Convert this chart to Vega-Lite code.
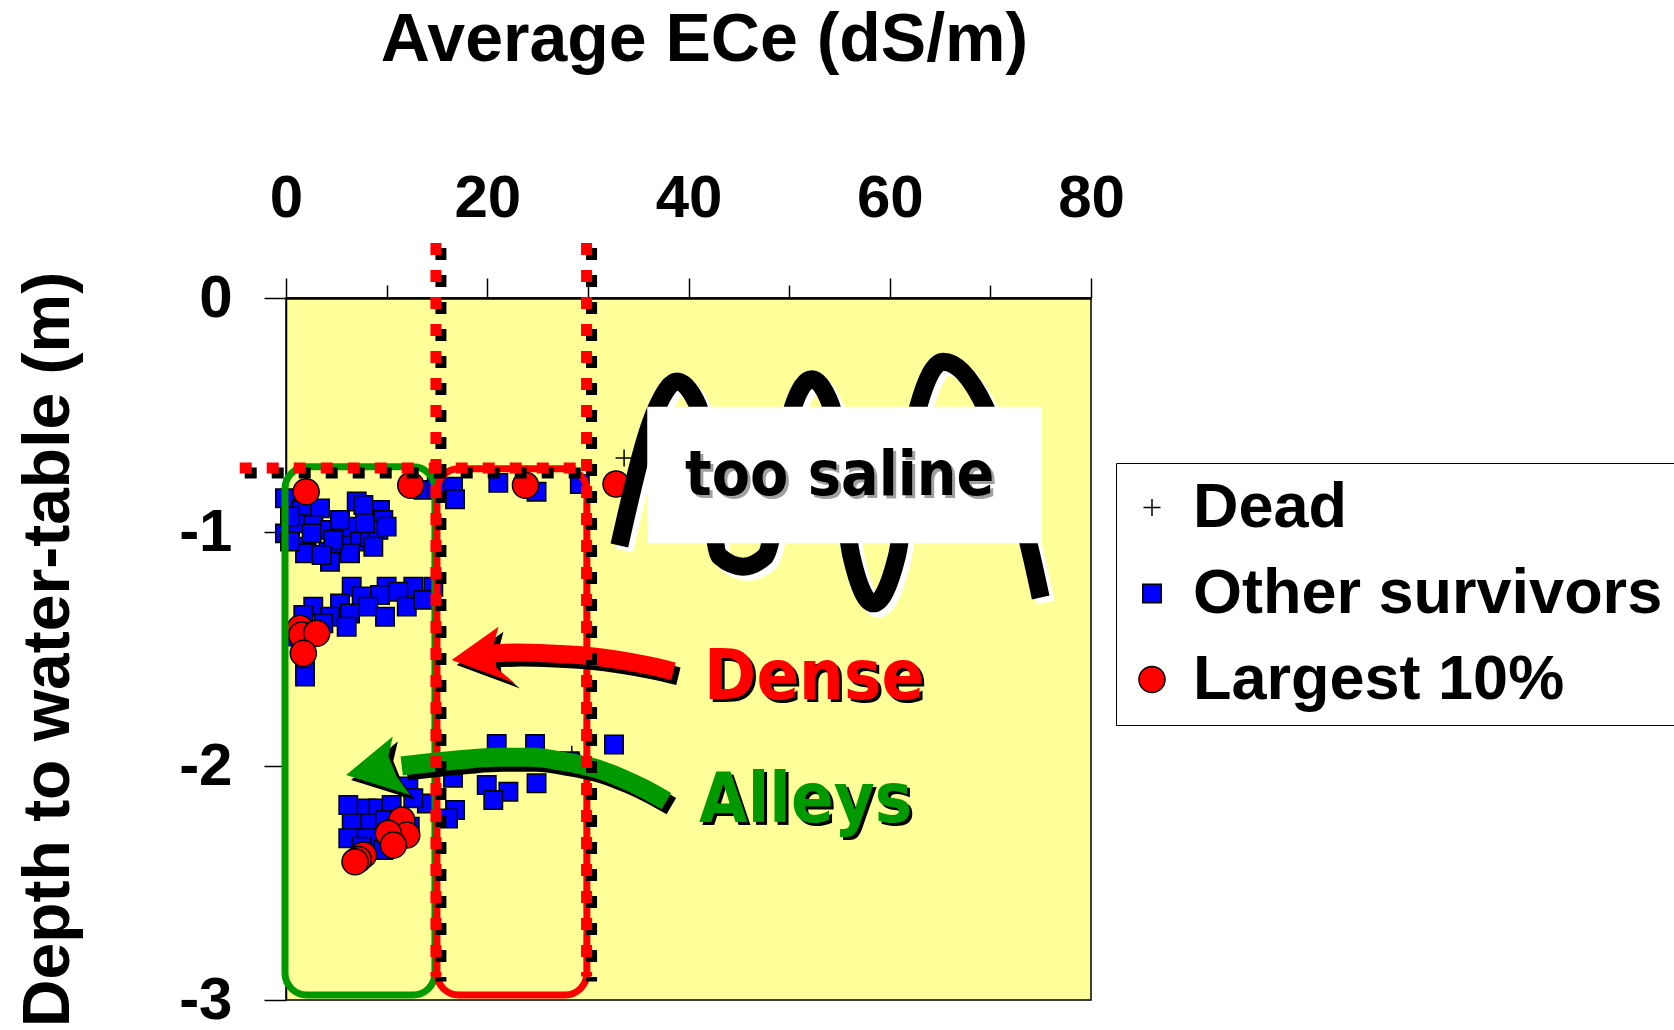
{
  "$schema": "https://vega.github.io/schema/vega-lite/v6.json",
  "width": 805,
  "height": 702,
  "autosize": {"type": "none"},
  "padding": {"left": 286, "top": 298, "right": 583, "bottom": 30},
  "config": {
    "view": {"fill": "#FFFF99", "stroke": "black", "strokeWidth": 1.5}
  },
  "datasets": {
    "pts": [
      {"x": 33.6, "y": -0.684, "s": "Dead"},
      {"x": 28.4, "y": -1.95, "s": "Dead"},
      {"x": -0.1, "y": -0.856, "s": "Other survivors"},
      {"x": -0.1, "y": -1.006, "s": "Other survivors"},
      {"x": 1.56, "y": -0.906, "s": "Other survivors"},
      {"x": 3.38, "y": -0.899, "s": "Other survivors"},
      {"x": 1.23, "y": -0.963, "s": "Other survivors"},
      {"x": 2.72, "y": -0.97, "s": "Other survivors"},
      {"x": 2.05, "y": -1.063, "s": "Other survivors"},
      {"x": 4.21, "y": -1.084, "s": "Other survivors"},
      {"x": 2.55, "y": -1.006, "s": "Other survivors"},
      {"x": 4.37, "y": -0.991, "s": "Other survivors"},
      {"x": 6.36, "y": -0.977, "s": "Other survivors"},
      {"x": 5.86, "y": -1.056, "s": "Other survivors"},
      {"x": 7.36, "y": -1.041, "s": "Other survivors"},
      {"x": 8.35, "y": -1.02, "s": "Other survivors"},
      {"x": 7.03, "y": -0.87, "s": "Other survivors"},
      {"x": 8.35, "y": -0.906, "s": "Other survivors"},
      {"x": 9.34, "y": -0.906, "s": "Other survivors"},
      {"x": 9.67, "y": -0.949, "s": "Other survivors"},
      {"x": 9.18, "y": -0.991, "s": "Other survivors"},
      {"x": 8.68, "y": -1.063, "s": "Other survivors"},
      {"x": 4.37, "y": -1.127, "s": "Other survivors"},
      {"x": 6.36, "y": -1.091, "s": "Other survivors"},
      {"x": 1.89, "y": -1.091, "s": "Other survivors"},
      {"x": 4.7, "y": -1.034, "s": "Other survivors"},
      {"x": 7.69, "y": -0.885, "s": "Other survivors"},
      {"x": 3.54, "y": -1.098, "s": "Other survivors"},
      {"x": 0.4, "y": -0.934, "s": "Other survivors"},
      {"x": 10.0, "y": -0.977, "s": "Other survivors"},
      {"x": 7.85, "y": -0.963, "s": "Other survivors"},
      {"x": 5.37, "y": -0.949, "s": "Other survivors"},
      {"x": 0.4, "y": -1.041, "s": "Other survivors"},
      {"x": 13.65, "y": -0.82, "s": "Other survivors"},
      {"x": 14.98, "y": -0.806, "s": "Other survivors"},
      {"x": 16.6, "y": -0.806, "s": "Other survivors"},
      {"x": 16.8, "y": -0.86, "s": "Other survivors"},
      {"x": 21.1, "y": -0.79, "s": "Other survivors"},
      {"x": 24.9, "y": -0.828, "s": "Other survivors"},
      {"x": 29.2, "y": -0.795, "s": "Other survivors"},
      {"x": 6.53, "y": -1.234, "s": "Other survivors"},
      {"x": 10.0, "y": -1.234, "s": "Other survivors"},
      {"x": 12.65, "y": -1.234, "s": "Other survivors"},
      {"x": 14.64, "y": -1.234, "s": "Other survivors"},
      {"x": 11.16, "y": -1.255, "s": "Other survivors"},
      {"x": 7.52, "y": -1.276, "s": "Other survivors"},
      {"x": 9.34, "y": -1.269, "s": "Other survivors"},
      {"x": 5.37, "y": -1.305, "s": "Other survivors"},
      {"x": 8.18, "y": -1.319, "s": "Other survivors"},
      {"x": 12.0, "y": -1.319, "s": "Other survivors"},
      {"x": 2.71, "y": -1.319, "s": "Other survivors"},
      {"x": 6.36, "y": -1.348, "s": "Other survivors"},
      {"x": 9.84, "y": -1.362, "s": "Other survivors"},
      {"x": 4.37, "y": -1.362, "s": "Other survivors"},
      {"x": 1.72, "y": -1.355, "s": "Other survivors"},
      {"x": 6.03, "y": -1.405, "s": "Other survivors"},
      {"x": 3.71, "y": -1.39, "s": "Other survivors"},
      {"x": 13.65, "y": -1.29, "s": "Other survivors"},
      {"x": 1.89, "y": -1.576, "s": "Other survivors"},
      {"x": 1.89, "y": -1.618, "s": "Other survivors"},
      {"x": 1.06, "y": -1.447, "s": "Other survivors"},
      {"x": 20.94, "y": -1.906, "s": "Other survivors"},
      {"x": 24.75, "y": -1.906, "s": "Other survivors"},
      {"x": 32.6, "y": -1.908, "s": "Other survivors"},
      {"x": 28.2, "y": -1.98, "s": "Other survivors"},
      {"x": 26.5, "y": -1.98, "s": "Other survivors"},
      {"x": 19.95, "y": -2.081, "s": "Other survivors"},
      {"x": 22.1, "y": -2.11, "s": "Other survivors"},
      {"x": 20.6, "y": -2.145, "s": "Other survivors"},
      {"x": 24.9, "y": -2.074, "s": "Other survivors"},
      {"x": 16.6, "y": -2.05, "s": "Other survivors"},
      {"x": 16.8, "y": -2.188, "s": "Other survivors"},
      {"x": 16.1, "y": -2.224, "s": "Other survivors"},
      {"x": 14.0, "y": -2.16, "s": "Other survivors"},
      {"x": 12.16, "y": -2.088, "s": "Other survivors"},
      {"x": 12.65, "y": -2.138, "s": "Other survivors"},
      {"x": 6.19, "y": -2.167, "s": "Other survivors"},
      {"x": 8.02, "y": -2.181, "s": "Other survivors"},
      {"x": 9.18, "y": -2.181, "s": "Other survivors"},
      {"x": 10.5, "y": -2.167, "s": "Other survivors"},
      {"x": 6.53, "y": -2.245, "s": "Other survivors"},
      {"x": 8.35, "y": -2.245, "s": "Other survivors"},
      {"x": 9.84, "y": -2.231, "s": "Other survivors"},
      {"x": 6.19, "y": -2.309, "s": "Other survivors"},
      {"x": 8.02, "y": -2.309, "s": "Other survivors"},
      {"x": 9.67, "y": -2.359, "s": "Other survivors"},
      {"x": 7.52, "y": -2.345, "s": "Other survivors"},
      {"x": 12.3, "y": -2.26, "s": "Other survivors"},
      {"x": 2.0, "y": -0.828, "s": "Largest 10%"},
      {"x": 12.4, "y": -0.8, "s": "Largest 10%"},
      {"x": 23.8, "y": -0.8, "s": "Largest 10%"},
      {"x": 32.8, "y": -0.795, "s": "Largest 10%"},
      {"x": 1.39, "y": -1.412, "s": "Largest 10%"},
      {"x": 1.56, "y": -1.44, "s": "Largest 10%"},
      {"x": 3.05, "y": -1.433, "s": "Largest 10%"},
      {"x": 1.72, "y": -1.518, "s": "Largest 10%"},
      {"x": 11.5, "y": -2.231, "s": "Largest 10%"},
      {"x": 12.0, "y": -2.295, "s": "Largest 10%"},
      {"x": 10.17, "y": -2.288, "s": "Largest 10%"},
      {"x": 10.67, "y": -2.338, "s": "Largest 10%"},
      {"x": 7.69, "y": -2.38, "s": "Largest 10%"},
      {"x": 7.19, "y": -2.4, "s": "Largest 10%"},
      {"x": 6.86, "y": -2.409, "s": "Largest 10%"}
    ],
    "boxes": [
      {"x": -0.1, "x2": 14.8, "y": -0.721, "y2": -2.979, "zone": "alleys"},
      {"x": 15.0, "x2": 29.9, "y": -0.73, "y2": -2.979, "zone": "dense"}
    ],
    "vdots": [
      {"x": 14.9, "y": 0.235, "y2": -2.9},
      {"x": 29.87, "y": 0.235, "y2": -2.9}
    ],
    "hdots": [
      {"x": -4.6, "x2": 30.2, "y": -0.727}
    ],
    "redShaft": [
      {"x": 20.2, "y": -1.52},
      {"x": 22.9, "y": -1.515},
      {"x": 26.2, "y": -1.519},
      {"x": 29.6, "y": -1.528},
      {"x": 32.9, "y": -1.546},
      {"x": 36.0, "y": -1.57},
      {"x": 38.5, "y": -1.595}
    ],
    "greenShaft": [
      {"x": 11.5, "y": -2.0},
      {"x": 14.5, "y": -1.985},
      {"x": 17.6, "y": -1.972},
      {"x": 21.0, "y": -1.963},
      {"x": 24.3, "y": -1.963},
      {"x": 27.5, "y": -1.98},
      {"x": 30.9, "y": -2.012},
      {"x": 33.5, "y": -2.055},
      {"x": 35.5, "y": -2.095},
      {"x": 37.8, "y": -2.15}
    ],
    "redHead": [{"x": 19.64, "y": -1.526}],
    "greenHead": [{"x": 9.15, "y": -2.0}],
    "squiggle": [
      {"x": 33.13, "y": -1.058},
      {"x": 36.9, "y": -0.464},
      {"x": 38.83, "y": -0.357},
      {"x": 40.98, "y": -0.464},
      {"x": 43.1, "y": -1.105},
      {"x": 45.4, "y": -1.148},
      {"x": 47.6, "y": -1.105},
      {"x": 50.4, "y": -0.464},
      {"x": 52.24, "y": -0.347},
      {"x": 54.2, "y": -0.464},
      {"x": 56.2, "y": -1.105},
      {"x": 58.37, "y": -1.305},
      {"x": 60.7, "y": -1.105},
      {"x": 62.84, "y": -0.464},
      {"x": 65.32, "y": -0.272},
      {"x": 69.46, "y": -0.464},
      {"x": 74.1, "y": -1.105},
      {"x": 75.0, "y": -1.28}
    ],
    "whiteBox": [{"x": 35.9, "x2": 75.05, "y": -0.4645, "y2": -1.048}],
    "saline": [{"x": 39.66, "y": -0.842, "t": "too saline"}],
    "dense": [{"x": 41.55, "y": -1.714, "t": "Dense"}],
    "alleys": [{"x": 41.05, "y": -2.239, "t": "Alleys"}]
  },
  "resolve": {"scale": {"x": "independent", "y": "independent"}},
  "layer": [
    {
      "encoding": {
        "x": {
          "field": "x", "type": "quantitative",
          "scale": {"domain": [0, 80], "nice": false, "zero": false},
          "axis": {
            "orient": "top",
            "values": [0, 10, 20, 30, 40, 50, 60, 70, 80],
            "labelExpr": "datum.value % 20 === 0 ? datum.label : ''",
            "labelOverlap": false,
            "labelFlush": false,
            "labelFont": "Liberation Sans", "labelFontSize": 60, "labelFontWeight": "bold", "labelColor": "black",
            "labelBaseline": "alphabetic", "labelPadding": 62,
            "tickSize": {"condition": {"test": "datum.value % 20 !== 0", "value": 13}, "value": 20},
            "tickColor": "black", "tickWidth": 1.5,
            "domainColor": "black", "domainWidth": 2.5,
            "grid": false,
            "title": "Average ECe (dS/m)",
            "titleFont": "Liberation Sans", "titleFontSize": 68, "titleFontWeight": "bold", "titleColor": "black",
            "titleX": 418, "titleY": -238, "titleAlign": "center", "titleBaseline": "alphabetic"
          }
        },
        "y": {
          "field": "y", "type": "quantitative",
          "scale": {"domain": [-3, 0], "nice": false, "zero": false},
          "axis": {
            "orient": "left",
            "values": [0, -1, -2, -3],
            "labelExpr": "datum.value === 0 ? '0' : '-' + abs(datum.value)",
            "labelFlush": false,
            "labelFont": "Liberation Sans", "labelFontSize": 60, "labelFontWeight": "bold", "labelColor": "black",
            "labelAlign": "right", "labelBaseline": "middle", "labelPadding": 32,
            "tickSize": 22, "tickColor": "black", "tickWidth": 1.5,
            "domainColor": "black", "domainWidth": 1.5,
            "grid": false,
            "title": "Depth to water-table (m)",
            "titleFont": "Liberation Sans", "titleFontSize": 66, "titleFontWeight": "bold", "titleColor": "black",
            "titleAngle": 270, "titleX": -238, "titleY": 351, "titleAlign": "center", "titleBaseline": "middle"
          }
        }
      },
      "layer": [
        {
          "data": {"name": "pts"},
          "mark": {"type": "point", "filled": true, "stroke": "black", "strokeWidth": 1.5, "opacity": 1},
          "encoding": {
            "color": {
              "field": "s", "type": "nominal",
              "scale": {"domain": ["Dead", "Other survivors", "Largest 10%"], "range": ["black", "#0000FF", "#FF0000"]},
              "legend": {
                "title": null, "orient": "none", "legendX": 830, "legendY": 165,
                "padding": 13, "rowPadding": 22,
                "labelFont": "Liberation Sans", "labelFontSize": 63, "labelFontWeight": "bold", "labelColor": "black",
                "labelLimit": 800, "labelOffset": 9.5, "symbolOffset": -8.5,
                "strokeColor": "black", "fillColor": "white",
                "symbolStrokeColor": "black", "symbolStrokeWidth": 1.5
              }
            },
            "shape": {
              "field": "s", "type": "nominal",
              "scale": {"domain": ["Dead", "Other survivors", "Largest 10%"], "range": ["M-1,0L1,0M0,-1L0,1", "square", "circle"]}
            },
            "size": {
              "field": "s", "type": "nominal",
              "scale": {"type": "ordinal", "domain": ["Dead", "Other survivors", "Largest 10%"], "range": [289, 340, 680]}
            }
          }
        },
        {
          "data": {"name": "boxes"},
          "mark": {"type": "rect", "filled": false, "strokeWidth": 7, "cornerRadius": 22},
          "encoding": {
            "x2": {"field": "x2"},
            "y2": {"field": "y2"},
            "stroke": {"field": "zone", "type": "nominal", "scale": {"domain": ["alleys", "dense"], "range": ["#009900", "#FF0000"]}, "legend": null}
          }
        }
      ]
    },
    {
      "encoding": {
        "x": {"field": "x", "type": "quantitative", "scale": {"domain": [-0.497, 79.503], "nice": false, "zero": false}, "axis": null},
        "y": {"field": "y", "type": "quantitative", "scale": {"domain": [-2.97863, 0.02137], "nice": false, "zero": false}, "axis": null}
      },
      "layer": [
        {"data": {"name": "redShaft"}, "mark": {"type": "line", "color": "black", "strokeWidth": 18, "interpolate": "monotone", "strokeCap": "butt"}, "encoding": {}},
        {"data": {"name": "greenShaft"}, "mark": {"type": "line", "color": "black", "strokeWidth": 19, "interpolate": "monotone", "strokeCap": "butt"}, "encoding": {}},
        {"data": {"name": "redHead"}, "mark": {"type": "point", "shape": "M-0.97,0.15L0.45,-0.86L0.30,-0.30L0.39,0.39L0.95,0.86Z", "size": 4356, "filled": true, "color": "black", "opacity": 1, "strokeWidth": 0}},
        {"data": {"name": "greenHead"}, "mark": {"type": "point", "shape": "M-1,0.28L0.46,-0.92L0.32,-0.31L0.58,0.33L1,0.91Z", "size": 4096, "filled": true, "color": "black", "opacity": 1, "strokeWidth": 0}}
      ]
    },
    {
      "encoding": {
        "x": {"field": "x", "type": "quantitative", "scale": {"domain": [0, 80], "nice": false, "zero": false}, "axis": null},
        "y": {"field": "y", "type": "quantitative", "scale": {"domain": [-3, 0], "nice": false, "zero": false}, "axis": null}
      },
      "layer": [
        {"data": {"name": "redShaft"}, "mark": {"type": "line", "color": "#FF0000", "strokeWidth": 18, "interpolate": "monotone", "strokeCap": "butt"}, "encoding": {}},
        {"data": {"name": "greenShaft"}, "mark": {"type": "line", "color": "#009900", "strokeWidth": 19, "interpolate": "monotone", "strokeCap": "butt"}, "encoding": {}},
        {"data": {"name": "redHead"}, "mark": {"type": "point", "shape": "M-0.97,0.15L0.45,-0.86L0.30,-0.30L0.39,0.39L0.95,0.86Z", "size": 4356, "filled": true, "color": "#FF0000", "opacity": 1, "strokeWidth": 0}},
        {"data": {"name": "greenHead"}, "mark": {"type": "point", "shape": "M-1,0.28L0.46,-0.92L0.32,-0.31L0.58,0.33L1,0.91Z", "size": 4096, "filled": true, "color": "#009900", "opacity": 1, "strokeWidth": 0}}
      ]
    },
    {
      "encoding": {
        "x": {"field": "x", "type": "quantitative", "scale": {"domain": [-0.497, 79.503], "nice": false, "zero": false}, "axis": null},
        "y": {"field": "y", "type": "quantitative", "scale": {"domain": [-2.97863, 0.02137], "nice": false, "zero": false}, "axis": null}
      },
      "layer": [
        {"data": {"name": "vdots"}, "mark": {"type": "rule", "color": "black", "strokeWidth": 11, "strokeDash": [12, 15], "strokeCap": "butt"}, "encoding": {"y2": {"field": "y2"}}},
        {"data": {"name": "hdots"}, "mark": {"type": "rule", "color": "black", "strokeWidth": 11, "strokeDash": [12, 15], "strokeCap": "butt"}, "encoding": {"x2": {"field": "x2"}}}
      ]
    },
    {
      "encoding": {
        "x": {"field": "x", "type": "quantitative", "scale": {"domain": [0, 80], "nice": false, "zero": false}, "axis": null},
        "y": {"field": "y", "type": "quantitative", "scale": {"domain": [-3, 0], "nice": false, "zero": false}, "axis": null}
      },
      "layer": [
        {"data": {"name": "vdots"}, "mark": {"type": "rule", "color": "#FF0000", "strokeWidth": 11, "strokeDash": [12, 15], "strokeCap": "butt"}, "encoding": {"y2": {"field": "y2"}}},
        {"data": {"name": "hdots"}, "mark": {"type": "rule", "color": "#FF0000", "strokeWidth": 11, "strokeDash": [12, 15], "strokeCap": "butt"}, "encoding": {"x2": {"field": "x2"}}}
      ]
    },
    {
      "encoding": {
        "x": {"field": "x", "type": "quantitative", "scale": {"domain": [-0.497, 79.503], "nice": false, "zero": false}, "axis": null},
        "y": {"field": "y", "type": "quantitative", "scale": {"domain": [-2.97863, 0.02137], "nice": false, "zero": false}, "axis": null}
      },
      "layer": [
        {"data": {"name": "squiggle"}, "mark": {"type": "line", "color": "white", "strokeWidth": 18, "interpolate": "monotone", "strokeCap": "butt"}, "encoding": {}}
      ]
    },
    {
      "encoding": {
        "x": {"field": "x", "type": "quantitative", "scale": {"domain": [0, 80], "nice": false, "zero": false}, "axis": null},
        "y": {"field": "y", "type": "quantitative", "scale": {"domain": [-3, 0], "nice": false, "zero": false}, "axis": null}
      },
      "layer": [
        {"data": {"name": "squiggle"}, "mark": {"type": "line", "color": "black", "strokeWidth": 18, "interpolate": "monotone", "strokeCap": "butt"}, "encoding": {}},
        {"data": {"name": "whiteBox"}, "mark": {"type": "rect", "fill": "white", "strokeWidth": 0}, "encoding": {"x2": {"field": "x2"}, "y2": {"field": "y2"}}},
        {"data": {"name": "saline"}, "mark": {"type": "text", "align": "left", "baseline": "alphabetic", "font": "DejaVu Sans Condensed, Open Sans", "fontWeight": "bold", "fontSize": 62, "color": "#A0A0A0", "dx": 3, "dy": 3}, "encoding": {"text": {"field": "t"}}},
        {"data": {"name": "saline"}, "mark": {"type": "text", "align": "left", "baseline": "alphabetic", "font": "DejaVu Sans Condensed, Open Sans", "fontWeight": "bold", "fontSize": 62, "color": "black"}, "encoding": {"text": {"field": "t"}}},
        {"data": {"name": "dense"}, "mark": {"type": "text", "align": "left", "baseline": "alphabetic", "font": "DejaVu Sans Condensed, Open Sans", "fontWeight": "bold", "fontSize": 70, "color": "black", "dx": 3, "dy": 3}, "encoding": {"text": {"field": "t"}}},
        {"data": {"name": "dense"}, "mark": {"type": "text", "align": "left", "baseline": "alphabetic", "font": "DejaVu Sans Condensed, Open Sans", "fontWeight": "bold", "fontSize": 70, "color": "#FF0000"}, "encoding": {"text": {"field": "t"}}},
        {"data": {"name": "alleys"}, "mark": {"type": "text", "align": "left", "baseline": "alphabetic", "font": "DejaVu Sans Condensed, Open Sans", "fontWeight": "bold", "fontSize": 70, "color": "black", "dx": 3, "dy": 3}, "encoding": {"text": {"field": "t"}}},
        {"data": {"name": "alleys"}, "mark": {"type": "text", "align": "left", "baseline": "alphabetic", "font": "DejaVu Sans Condensed, Open Sans", "fontWeight": "bold", "fontSize": 70, "color": "#009900"}, "encoding": {"text": {"field": "t"}}}
      ]
    }
  ]
}
